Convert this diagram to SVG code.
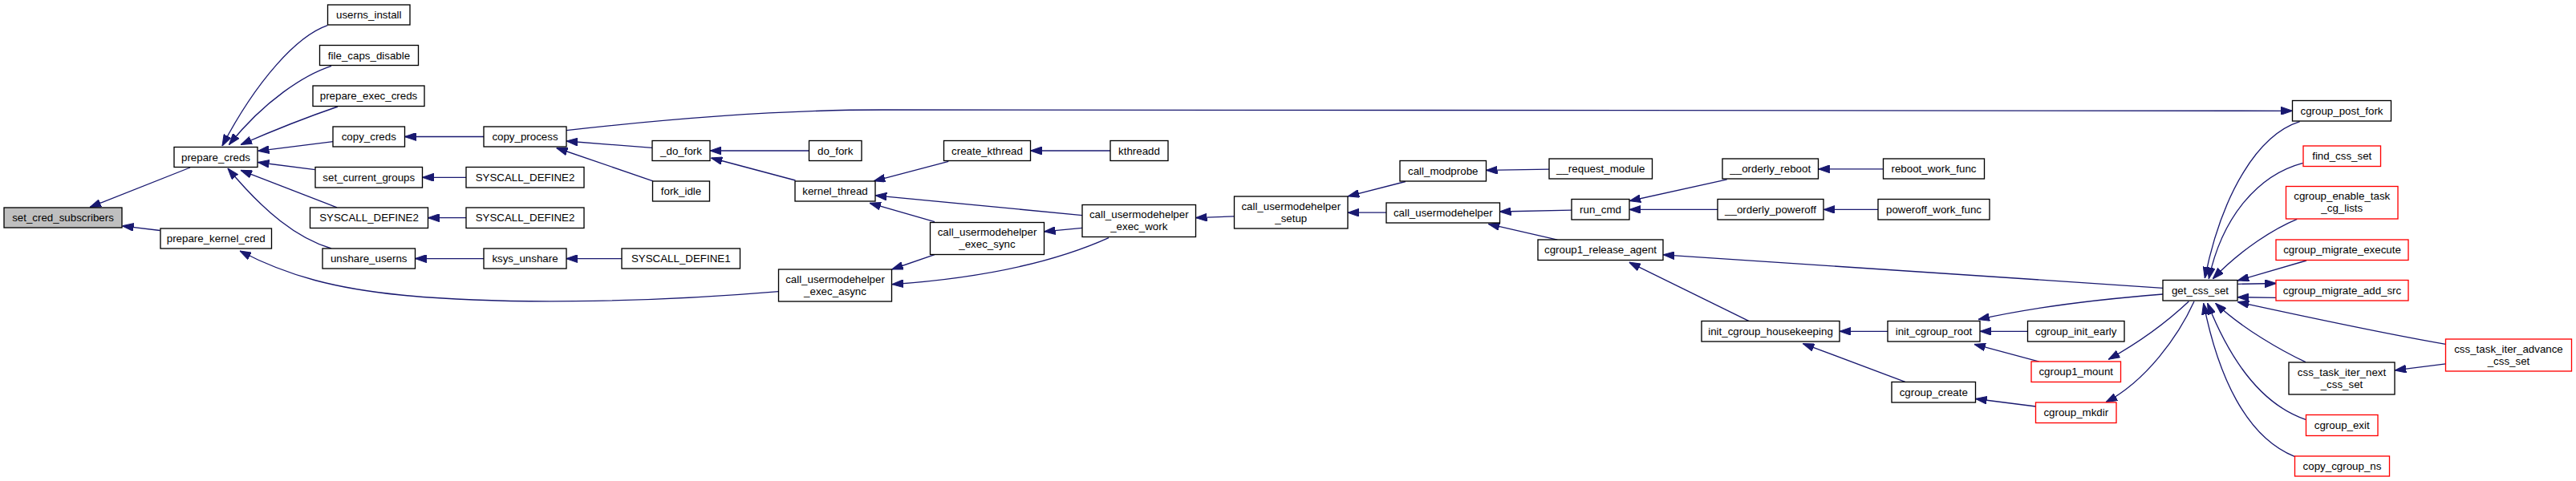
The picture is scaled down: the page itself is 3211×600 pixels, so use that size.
<svg xmlns="http://www.w3.org/2000/svg" width="3211" height="600" viewBox="0 0 3211 600">
<style>
.n rect{fill:#fff;stroke:#000;stroke-width:1.33}
.n.r rect{stroke:#ff0000}
.n.root rect{fill:#bfbfbf}
.n text{font-family:"Liberation Sans",Arial,Helvetica,sans-serif;font-size:13.33px;fill:#000;text-anchor:middle}
#edges path{fill:none;stroke:#191970;stroke-width:1.33}
</style>
<defs>
<marker id="a" markerUnits="userSpaceOnUse" markerWidth="14" markerHeight="10" refX="13" refY="4.5" orient="auto" viewBox="0 0 13 9">
<path d="M0,0 L13,4.5 L0,9 z" fill="#191970" stroke="#191970" stroke-width="1"/>
</marker>
</defs>
<rect width="3211" height="600" fill="#fff"/>
<g id="edges" marker-end="url(#a)">
<path d="M237,209 L112,258.5" marker-end="url(#a)"/>
<path d="M199.5,287.5 L152.5,281.8" marker-end="url(#a)"/>
<path d="M408.3,31.7 C370,45 320,100 277,182" marker-end="url(#a)"/>
<path d="M413,82.3 C380,93 330,125 285.5,180.5" marker-end="url(#a)"/>
<path d="M421,133 C380,147 340,163 300,180.5" marker-end="url(#a)"/>
<path d="M415,176.7 L321.5,188.3" marker-end="url(#a)"/>
<path d="M392.7,211.7 L321.5,202.5" marker-end="url(#a)"/>
<path d="M420,258.8 L300,212.3" marker-end="url(#a)"/>
<path d="M413,310 C370,297 330,265 284,210" marker-end="url(#a)"/>
<path d="M603,170.5 L504.5,170.5" marker-end="url(#a)"/>
<path d="M581,221.3 L526.5,221.3" marker-end="url(#a)"/>
<path d="M581,271.7 L533.5,271.7" marker-end="url(#a)"/>
<path d="M603,322.6 L517.5,322.6" marker-end="url(#a)"/>
<path d="M775,322.6 L706,322.6" marker-end="url(#a)"/>
<path d="M970.5,363.6 C800,378 620,380 500,368 C420,360 360,345 299,313" marker-end="url(#a)"/>
<path d="M706,162.6 C800,152 950,137 1100,137 L2857.5,138.3" marker-end="url(#a)"/>
<path d="M813,184.4 L706,176" marker-end="url(#a)"/>
<path d="M814,225.8 L693.6,184.5" marker-end="url(#a)"/>
<path d="M1008.5,188 L885,188" marker-end="url(#a)"/>
<path d="M991.5,225 L886.4,197" marker-end="url(#a)"/>
<path d="M1182.3,201.3 L1089.3,225.8" marker-end="url(#a)"/>
<path d="M1384,188 L1284.5,188" marker-end="url(#a)"/>
<path d="M1349,268.6 L1091.3,243.8" marker-end="url(#a)"/>
<path d="M1165,276.7 L1084,253.3" marker-end="url(#a)"/>
<path d="M1349,284.3 L1301.5,288.9" marker-end="url(#a)"/>
<path d="M1165,317.6 L1111.7,336" marker-end="url(#a)"/>
<path d="M1382,296.6 C1330,320 1250,345 1112,354.7" marker-end="url(#a)"/>
<path d="M1538.5,269.8 L1490.5,271.7" marker-end="url(#a)"/>
<path d="M1751.9,226.5 L1680.2,244.9" marker-end="url(#a)"/>
<path d="M1728,265.2 L1680,265.2" marker-end="url(#a)"/>
<path d="M1931,211.2 L1852.5,212.4" marker-end="url(#a)"/>
<path d="M1959,262.1 L1869.5,264" marker-end="url(#a)"/>
<path d="M1941.3,299.2 L1855.2,279.4" marker-end="url(#a)"/>
<path d="M2152.7,223.9 L2031.1,250.7" marker-end="url(#a)"/>
<path d="M2141,261.4 L2031.2,261.4" marker-end="url(#a)"/>
<path d="M2347.5,210.8 L2266.7,210.8" marker-end="url(#a)"/>
<path d="M2341,261.4 L2273.3,261.4" marker-end="url(#a)"/>
<path d="M2696,359.3 L2073.2,317.8" marker-end="url(#a)"/>
<path d="M2180.3,400.6 L2030.8,327.2" marker-end="url(#a)"/>
<path d="M2696,367 C2620,373 2540,382 2466,398.5" marker-end="url(#a)"/>
<path d="M2353,413.3 L2293.2,413.3" marker-end="url(#a)"/>
<path d="M2374.8,476.4 L2247.4,428.6" marker-end="url(#a)"/>
<path d="M2527.5,413.3 L2468.2,413.3" marker-end="url(#a)"/>
<path d="M2541.9,451.2 L2460.9,429.4" marker-end="url(#a)"/>
<path d="M2537.5,507 L2462.7,497.5" marker-end="url(#a)"/>
<path d="M2728.3,376 C2705,398 2670,425 2628.3,448.3" marker-end="url(#a)"/>
<path d="M2735,376 C2715,420 2675,475 2625,501.7" marker-end="url(#a)"/>
<path d="M2866.7,151.7 C2815,168 2770,240 2748.3,347" marker-end="url(#a)"/>
<path d="M2870.7,203.3 C2815,218 2770,270 2753.3,347.7" marker-end="url(#a)"/>
<path d="M2863.3,273.3 C2835,285 2795,310 2758.3,347.7" marker-end="url(#a)"/>
<path d="M2875,325 L2789.3,350" marker-end="url(#a)"/>
<path d="M2789.3,354.3 L2837.3,353.5" marker-end="url(#a)"/>
<path d="M2837.3,371.3 L2789.3,370.7" marker-end="url(#a)"/>
<path d="M3048.6,429.4 C2960,414 2860,392 2789.3,376.7" marker-end="url(#a)"/>
<path d="M2874,451.7 C2845,438 2795,410 2761.7,378.3" marker-end="url(#a)"/>
<path d="M3048.6,453.8 L2985.2,461.9" marker-end="url(#a)"/>
<path d="M2874,523.3 C2820,505 2780,450 2751.7,378.3" marker-end="url(#a)"/>
<path d="M2860,569.3 C2800,545 2765,470 2746.7,378.3" marker-end="url(#a)"/>
</g>
<g id="n1" class="n root"><rect x="5" y="259" width="147" height="25"/><text x="78.5" y="276">set_cred_subscribers</text></g>
<g id="n2" class="n"><rect x="217" y="183.5" width="104" height="25"/><text x="269" y="200.5">prepare_creds</text></g>
<g id="n3" class="n"><rect x="200" y="285" width="138.5" height="25"/><text x="269.25" y="302">prepare_kernel_cred</text></g>
<g id="n4" class="n"><rect x="408.5" y="6" width="102.5" height="25"/><text x="459.75" y="23">userns_install</text></g>
<g id="n5" class="n"><rect x="398.5" y="56.5" width="123" height="25"/><text x="460" y="73.5">file_caps_disable</text></g>
<g id="n6" class="n"><rect x="390" y="107" width="139" height="25.5"/><text x="459.5" y="124.3">prepare_exec_creds</text></g>
<g id="n7" class="n"><rect x="415" y="158" width="89.5" height="25"/><text x="459.75" y="175">copy_creds</text></g>
<g id="n8" class="n"><rect x="393" y="208.5" width="133.5" height="25.5"/><text x="459.75" y="225.8">set_current_groups</text></g>
<g id="n9" class="n"><rect x="386.5" y="259" width="147" height="25.5"/><text x="460" y="276.3">SYSCALL_DEFINE2</text></g>
<g id="n10" class="n"><rect x="402" y="310" width="115.5" height="25"/><text x="459.75" y="327">unshare_userns</text></g>
<g id="n11" class="n"><rect x="603" y="158" width="103" height="25"/><text x="654.5" y="175">copy_process</text></g>
<g id="n12" class="n"><rect x="581" y="208.5" width="147" height="25.5"/><text x="654.5" y="225.8">SYSCALL_DEFINE2</text></g>
<g id="n13" class="n"><rect x="581" y="259" width="147" height="25.5"/><text x="654.5" y="276.3">SYSCALL_DEFINE2</text></g>
<g id="n14" class="n"><rect x="603" y="310" width="103" height="25"/><text x="654.5" y="327">ksys_unshare</text></g>
<g id="n15" class="n"><rect x="813" y="175.5" width="72" height="25"/><text x="849" y="192.5">_do_fork</text></g>
<g id="n16" class="n"><rect x="813.5" y="226" width="71" height="25"/><text x="849" y="243">fork_idle</text></g>
<g id="n17" class="n"><rect x="775" y="310" width="147.5" height="25"/><text x="848.75" y="327">SYSCALL_DEFINE1</text></g>
<g id="n18" class="n"><rect x="970.5" y="336" width="141" height="40"/><text x="1041" y="352.5">call_usermodehelper</text><text x="1041" y="367.5">_exec_async</text></g>
<g id="n19" class="n"><rect x="1008.5" y="175.5" width="65.5" height="25"/><text x="1041.25" y="192.5">do_fork</text></g>
<g id="n20" class="n"><rect x="991" y="226" width="100" height="25"/><text x="1041" y="243">kernel_thread</text></g>
<g id="n21" class="n"><rect x="1176.5" y="175.5" width="108" height="25"/><text x="1230.5" y="192.5">create_kthread</text></g>
<g id="n22" class="n"><rect x="1384" y="175.5" width="72" height="25"/><text x="1420" y="192.5">kthreadd</text></g>
<g id="n23" class="n"><rect x="1159.5" y="277.5" width="142" height="40"/><text x="1230.5" y="294">call_usermodehelper</text><text x="1230.5" y="309">_exec_sync</text></g>
<g id="n24" class="n"><rect x="1349" y="255.5" width="141.5" height="40"/><text x="1419.75" y="272">call_usermodehelper</text><text x="1419.75" y="287">_exec_work</text></g>
<g id="n25" class="n"><rect x="1538.5" y="245" width="141.5" height="40"/><text x="1609.25" y="261.5">call_usermodehelper</text><text x="1609.25" y="276.5">_setup</text></g>
<g id="n26" class="n"><rect x="1745" y="200.5" width="107.5" height="25.5"/><text x="1798.75" y="217.8">call_modprobe</text></g>
<g id="n27" class="n"><rect x="1728" y="253" width="141.5" height="25"/><text x="1798.75" y="270">call_usermodehelper</text></g>
<g id="n28" class="n"><rect x="1931" y="198" width="128.5" height="25"/><text x="1995.25" y="215">__request_module</text></g>
<g id="n29" class="n"><rect x="1959" y="248.5" width="72" height="25.5"/><text x="1995" y="265.8">run_cmd</text></g>
<g id="n30" class="n"><rect x="1917" y="299" width="156" height="25.5"/><text x="1995" y="316.3">cgroup1_release_agent</text></g>
<g id="n31" class="n"><rect x="2147" y="198" width="119.5" height="25"/><text x="2206.75" y="215">__orderly_reboot</text></g>
<g id="n32" class="n"><rect x="2347.5" y="198" width="126" height="25"/><text x="2410.5" y="215">reboot_work_func</text></g>
<g id="n33" class="n"><rect x="2141" y="248.5" width="132" height="25.5"/><text x="2207" y="265.8">__orderly_poweroff</text></g>
<g id="n34" class="n"><rect x="2341" y="248.5" width="139" height="25.5"/><text x="2410.5" y="265.8">poweroff_work_func</text></g>
<g id="n35" class="n"><rect x="2121" y="400.5" width="172" height="25.5"/><text x="2207" y="417.8">init_cgroup_housekeeping</text></g>
<g id="n36" class="n"><rect x="2353" y="400.5" width="115" height="25.5"/><text x="2410.5" y="417.8">init_cgroup_root</text></g>
<g id="n37" class="n"><rect x="2527.5" y="400.5" width="120.5" height="25.5"/><text x="2587.75" y="417.8">cgroup_init_early</text></g>
<g id="n38" class="n r"><rect x="2532" y="451" width="111.5" height="25.5"/><text x="2587.75" y="468.3">cgroup1_mount</text></g>
<g id="n39" class="n"><rect x="2358" y="476.5" width="104.5" height="25.5"/><text x="2410.25" y="493.8">cgroup_create</text></g>
<g id="n40" class="n r"><rect x="2537.5" y="502" width="100.5" height="25.5"/><text x="2587.75" y="519.3">cgroup_mkdir</text></g>
<g id="n41" class="n"><rect x="2696" y="349.5" width="93" height="25.5"/><text x="2742.5" y="366.8">get_css_set</text></g>
<g id="n42" class="n"><rect x="2857.5" y="125.5" width="123" height="25.5"/><text x="2919" y="142.8">cgroup_post_fork</text></g>
<g id="n43" class="n r"><rect x="2871" y="182" width="96.5" height="25.5"/><text x="2919.25" y="199.3">find_css_set</text></g>
<g id="n44" class="n r"><rect x="2849.5" y="232.5" width="139.5" height="40.5"/><text x="2919.25" y="249.3">cgroup_enable_task</text><text x="2919.25" y="264.3">_cg_lists</text></g>
<g id="n45" class="n r"><rect x="2837" y="299" width="165" height="25.5"/><text x="2919.5" y="316.3">cgroup_migrate_execute</text></g>
<g id="n46" class="n r"><rect x="2837" y="349.5" width="165" height="25.5"/><text x="2919.5" y="366.8">cgroup_migrate_add_src</text></g>
<g id="n47" class="n r"><rect x="3048.5" y="423" width="157" height="40"/><text x="3127" y="439.5">css_task_iter_advance</text><text x="3127" y="454.5">_css_set</text></g>
<g id="n48" class="n"><rect x="2853" y="452" width="132" height="40"/><text x="2919" y="468.5">css_task_iter_next</text><text x="2919" y="483.5">_css_set</text></g>
<g id="n49" class="n r"><rect x="2874.5" y="517.5" width="89.5" height="26"/><text x="2919.25" y="535">cgroup_exit</text></g>
<g id="n50" class="n r"><rect x="2860.5" y="569" width="118" height="25"/><text x="2919.5" y="586">copy_cgroup_ns</text></g>
</svg>
